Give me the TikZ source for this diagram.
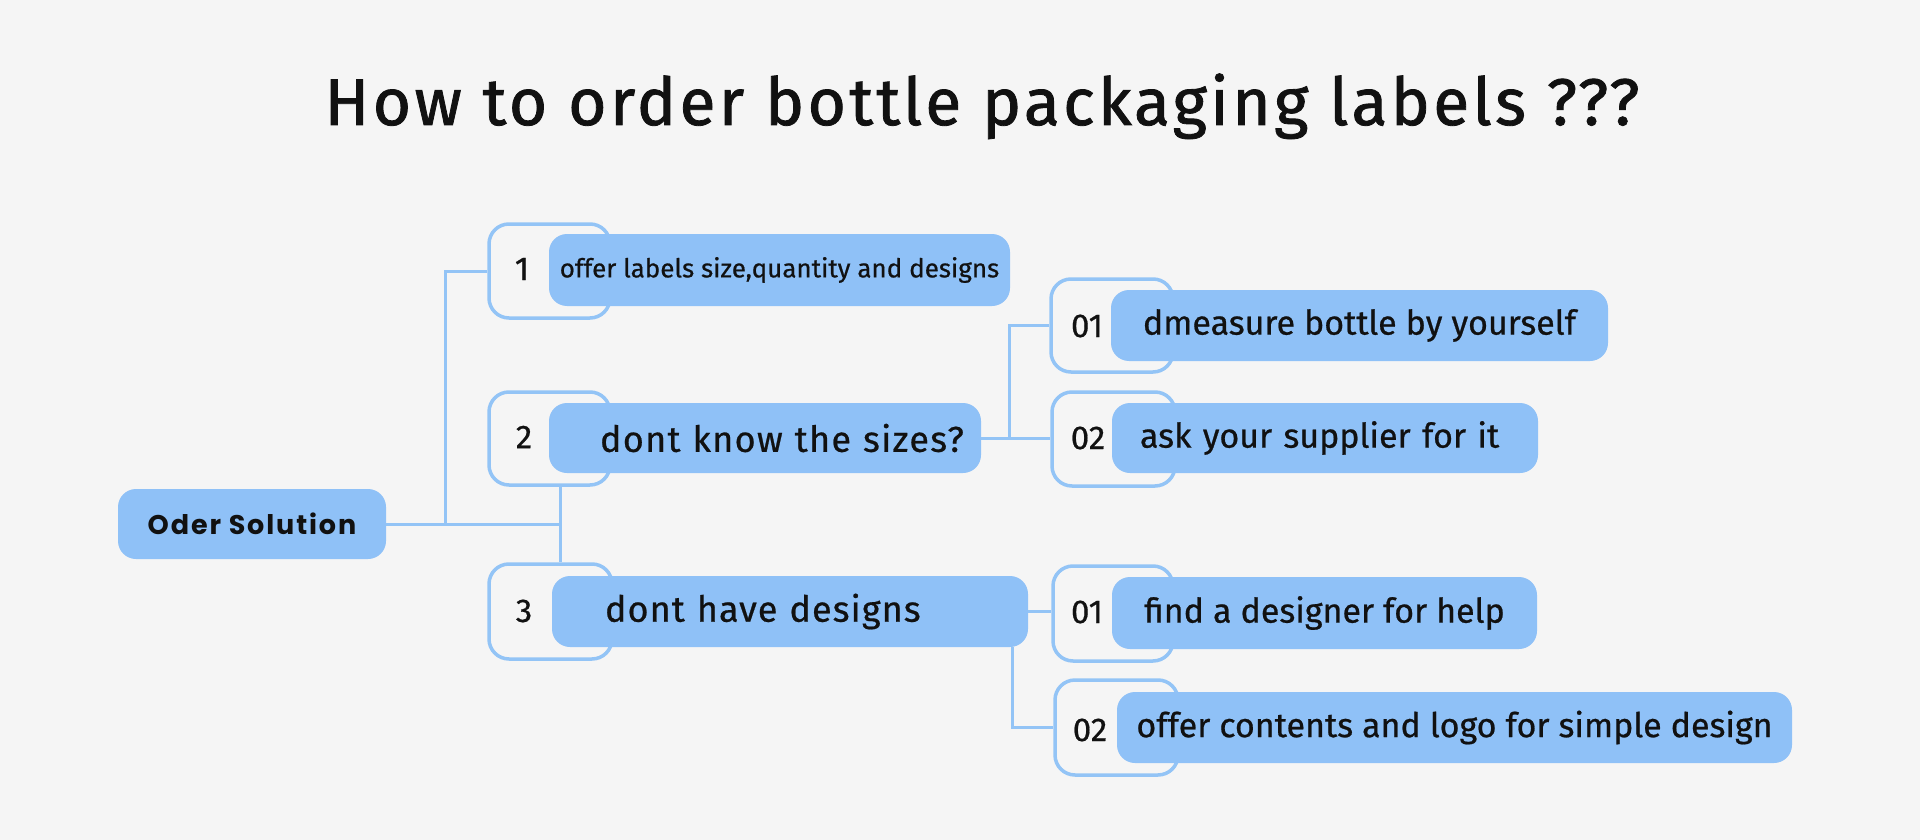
\documentclass[tikz,border=0pt]{standalone}
\usepackage{fontspec}
\setmainfont{Fira Sans}[FakeBold=0.5]
\newfontfamily\bodyfont{Fira Sans}[FakeBold=0.6]
\newfontfamily\titlefont{Fira Sans}[FakeBold=1.2, LetterSpace=5]
\newfontfamily\rootfont{Poppins}[LetterSpace=7]
\newfontfamily\spacedfont{Fira Sans}[FakeBold=0.6, LetterSpace=3]
\newfontfamily\widefont{Fira Sans}[FakeBold=0.6, LetterSpace=3.6]
\definecolor{bg}{HTML}{F5F5F5}
\definecolor{boxblue}{HTML}{8FC1F7}
\definecolor{lineblue}{HTML}{93C4F6}
\definecolor{txt}{HTML}{111111}
\begin{document}
\begin{tikzpicture}[x=1pt,y=-1pt,
  bluebox/.style={fill=boxblue, rounded corners=18pt, inner sep=0pt, text=txt},
  outbox/.style={draw=lineblue, line width=3.5pt, fill=bg, rounded corners=20pt, inner sep=0pt},
  conn/.style={draw=lineblue, line width=3pt},
  num/.style={font=\bodyfont\fontsize{33}{36}\selectfont, text=txt, inner sep=0pt},
  subtxt/.style={font=\bodyfont\fontsize{34}{38}\selectfont}
]
\fill[bg] (0,0) rectangle (1920,840);
\useasboundingbox (0,0) rectangle (1920,840);

\node[anchor=base, font=\titlefont\fontsize{66}{70}\selectfont, text=txt] (title) at (982,125) {How to order bottle packaging labels ???};

\node[bluebox, minimum width=268pt, minimum height=70pt, font=\rootfont\bfseries\fontsize{27}{30}\selectfont] (root) at (252,524) {Oder Solution};

% level 1
\node[outbox, minimum width=121pt, minimum height=94pt] (o1) at (549.5,271) {};
\node[bluebox, minimum width=461pt, minimum height=72pt, font=\bodyfont\fontsize{26}{30}\selectfont] (b1) at (779.5,270) {offer labels size,quantity and designs};
\node[num] (n1) at (522,269) {1};

\node[outbox, minimum width=121pt, minimum height=93pt] (o2) at (549.5,438.5) {};
\node[bluebox, minimum width=432pt, minimum height=70pt, text width=432pt, align=left, inner xsep=0pt, font=\widefont\fontsize{36}{40}\selectfont] (b2) at (765,438) {\hspace*{51pt}dont know the sizes?};
\node[num] (n2) at (524,437) {2};

\node[outbox, minimum width=123pt, minimum height=95pt] (o3) at (550.5,611.5) {};
\node[bluebox, minimum width=476pt, minimum height=71pt, text width=370pt, align=left, inner xsep=53pt, font=\spacedfont\fontsize{36}{40}\selectfont] (b3) at (790,611.5) {dont have designs};
\node[num] (n3) at (524,611) {3};

% level 2 under 2
\node[outbox, minimum width=122pt, minimum height=93pt] (o21) at (1112,325.5) {};
\node[bluebox, subtxt, minimum width=497pt, minimum height=71pt] (b21) at (1359.5,325.5) {dmeasure bottle by yourself};
\node[num] (n21) at (1087,326) {01};

\node[outbox, minimum width=123pt, minimum height=94pt] (o22) at (1113.5,439) {};
\node[bluebox, subtxt, minimum width=426pt, minimum height=70pt, text width=370pt, align=left, inner xsep=28pt] (b22) at (1325,438) {ask your supplier for it};
\node[num] (n22) at (1088,438) {02};

% level 2 under 3
\node[outbox, minimum width=120pt, minimum height=95pt] (o31) at (1113,613.5) {};
\node[bluebox, subtxt, minimum width=425pt, minimum height=72pt] (b31) at (1324.5,613) {find a designer for help};
\node[num] (n31) at (1087,612) {01};

\node[outbox, minimum width=123pt, minimum height=95pt] (o32) at (1116.5,727.5) {};
\node[bluebox, subtxt, minimum width=675pt, minimum height=71pt] (b32) at (1454.5,727.5) {offer contents and logo for simple design};
\node[num] (n32) at (1090,730) {02};

% connectors
\coordinate (jr) at (560,524);
\coordinate (ja) at (445,524);
\coordinate (j2) at (1009,438);
\coordinate (j3) at (1012,700);
\draw[conn] (root.east) -- (jr);
\draw[conn] (o1.west) -| (ja);
\draw[conn] (o2.south -| jr) -- (o3.north -| jr);
\draw[conn] (b2.east) -- (b2.east -| o22.west);
\draw[conn] (o21.west) -| (j2);
\draw[conn] (b3.east) -- (b3.east -| o31.west);
\draw[conn] (b3.south -| j3) |- (o32.west);
\end{tikzpicture}
\end{document}
